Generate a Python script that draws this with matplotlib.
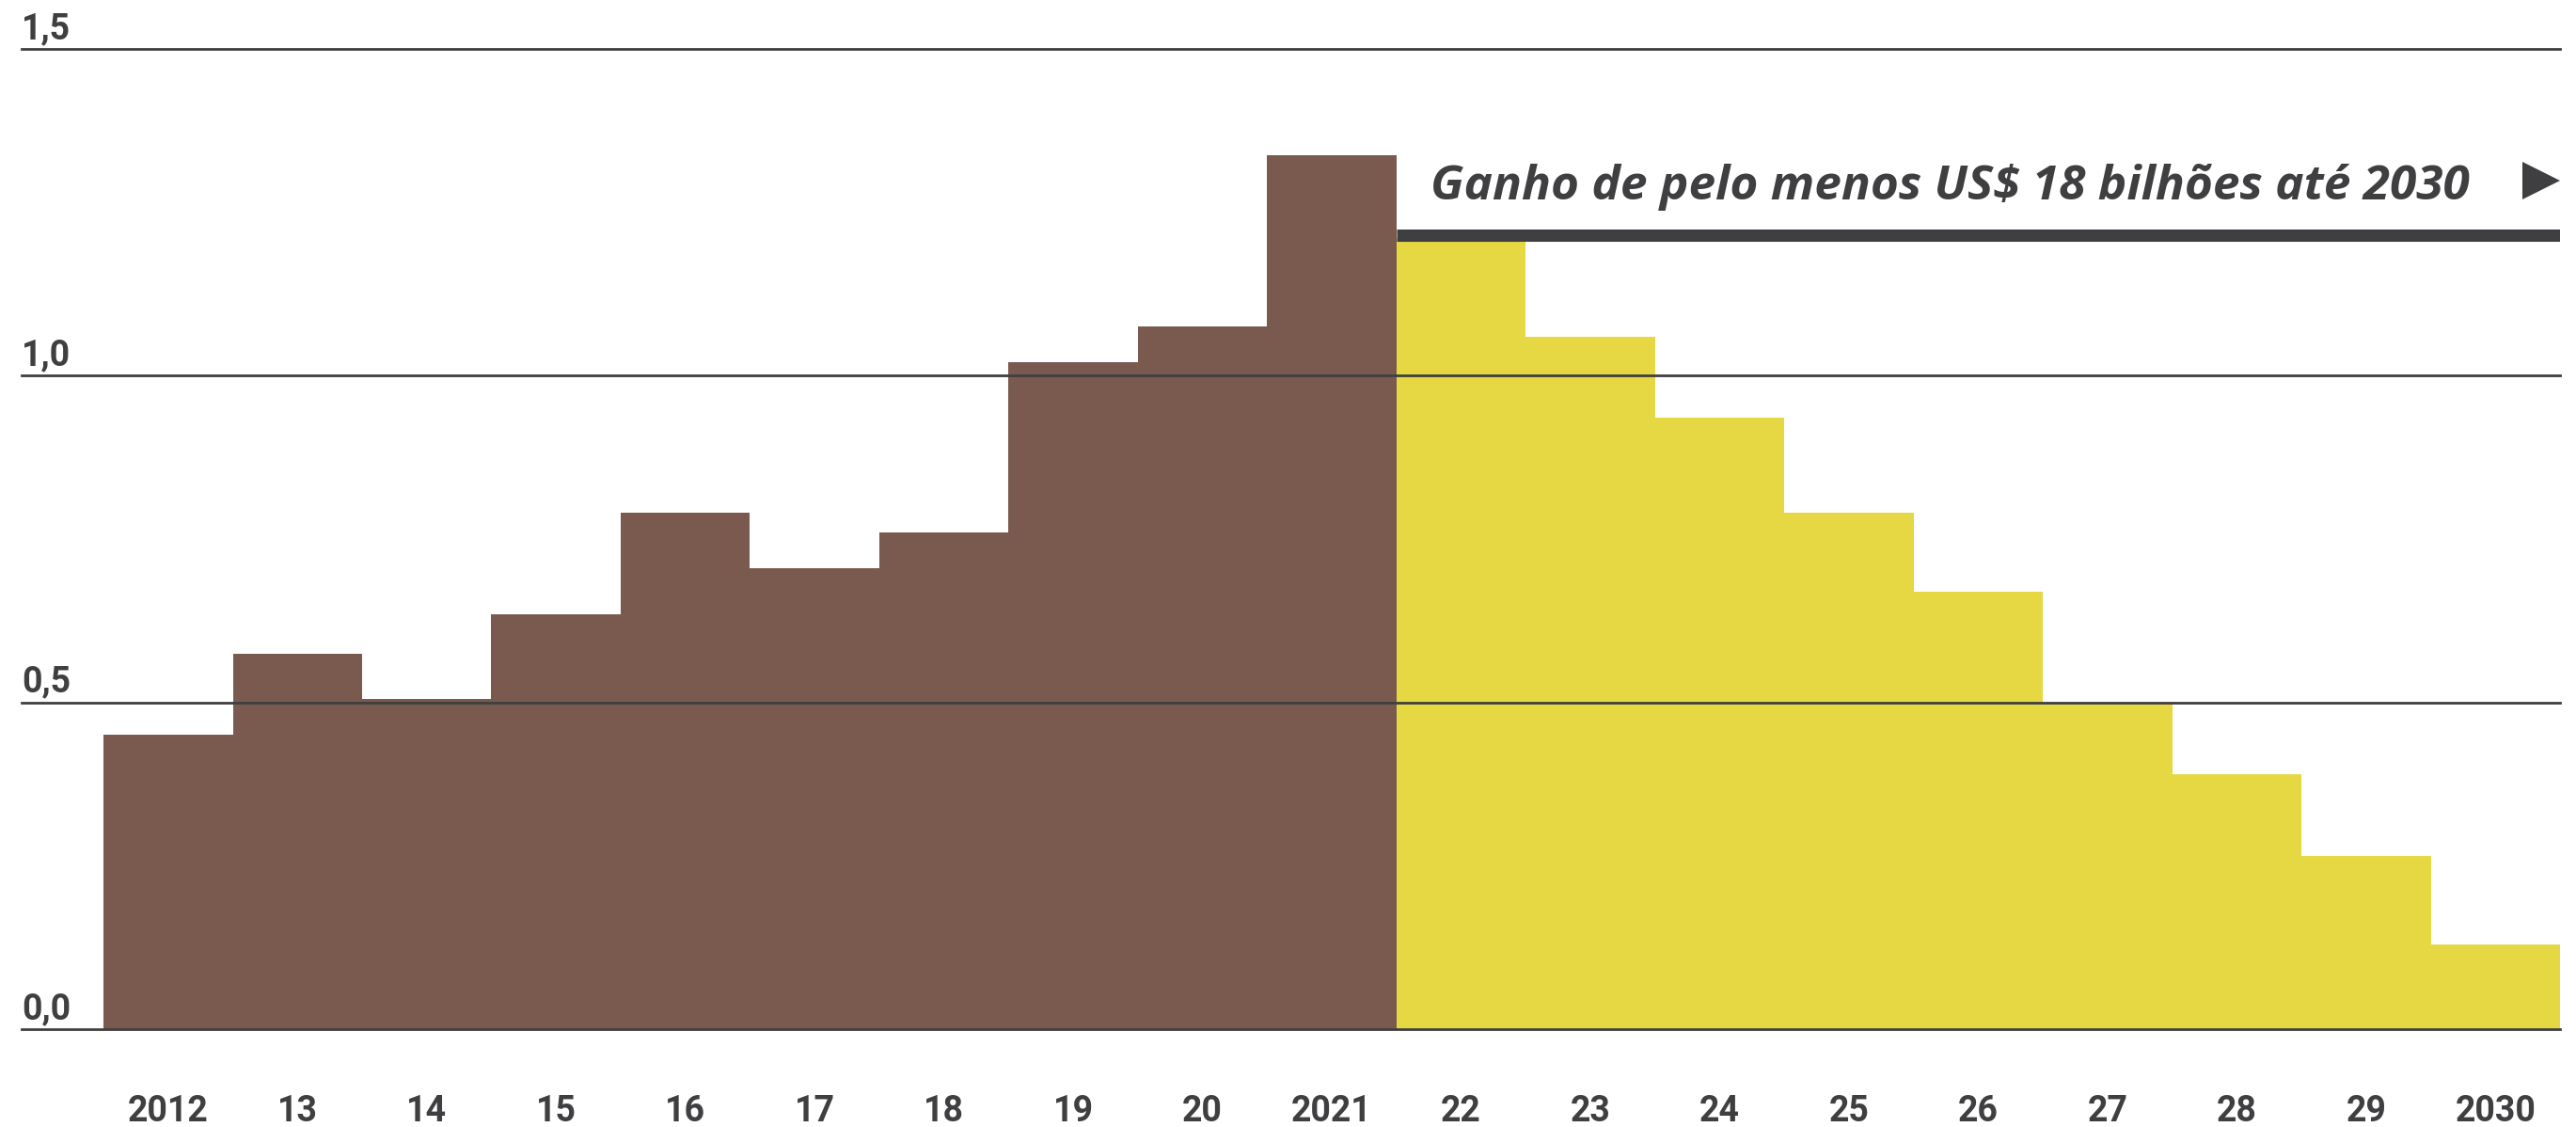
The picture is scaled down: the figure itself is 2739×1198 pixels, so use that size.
import matplotlib.pyplot as plt

# Annual values (US$ billions): realised up to 2021, projected from 2022 to 2030
years_past = ["2012", "13", "14", "15", "16", "17", "18", "19", "20", "2021"]
values_past = [0.45, 0.575, 0.505, 0.635, 0.79, 0.705, 0.76, 1.02, 1.075, 1.337]

years_future = ["22", "23", "24", "25", "26", "27", "28", "29", "2030"]
values_future = [1.21, 1.06, 0.935, 0.79, 0.67, 0.50, 0.39, 0.265, 0.13]

y_ticks = [0.0, 0.5, 1.0, 1.5]
y_tick_labels = ["0,0", "0,5", "1,0", "1,5"]

note = "Ganho de pelo menos US$ 18 bilhões até 2030"

BROWN = "#7a5a4f"
YELLOW = "#e5d843"
INK = "#3f3f41"
FONT = ["Roboto", "DejaVu Sans"]
NOTE_FONT = ["Open Sans", "DejaVu Sans"]

fig = plt.figure(figsize=(27.39, 11.98), dpi=100)
ax = fig.add_axes([0.0084, 0.0868, 0.9854, 0.8698])

x_past = list(range(len(years_past)))
x_future = [len(years_past) + i for i in range(len(years_future))]

ax.bar(x_past, values_past, width=1.0, color=BROWN, linewidth=0, zorder=1)
ax.bar(x_future, values_future, width=1.0, color=YELLOW, linewidth=0, zorder=1)

# horizontal grid drawn over the bars, with the value written above each line
for v, lab in zip(y_ticks, y_tick_labels):
    ax.axhline(v, color=INK, linewidth=2.0, zorder=3, clip_on=False)
    ax.annotate(lab, xy=(0, v), xycoords=("axes fraction", "data"),
                xytext=(0, 11), textcoords="offset pixels",
                ha="left", va="baseline", fontsize=27, fontweight="semibold",
                color=INK, family=FONT)

# projection marker: thick bar over the forecast period, text and arrow head
x_right = len(years_past) + len(years_future) - 0.5
x_start = len(years_past) - 0.5
ax.plot([x_start, x_right], [1.215, 1.215], color=INK, linewidth=9.4,
        solid_capstyle="butt", zorder=4)
ax.text(x_start + 0.26, 1.2695, note, ha="left", va="baseline",
        fontsize=37, fontstyle="italic", fontweight="bold",
        color=INK, family=NOTE_FONT)
ax.plot([x_right - 0.145], [1.298], marker=">", markersize=28.8,
        color=INK, markeredgewidth=0, zorder=4)

ax.set_xlim(-1.133, x_right)
ax.set_ylim(0, 1.5)
ax.set_xticks(x_past + x_future)
ax.set_xticklabels(years_past + years_future, fontsize=27,
                   fontweight="semibold", color=INK, family=FONT)
ax.tick_params(axis="x", length=0, pad=50)
ax.set_yticks([])
for side in ax.spines.values():
    side.set_visible(False)

fig.savefig("out.png", dpi=100, facecolor="white")
